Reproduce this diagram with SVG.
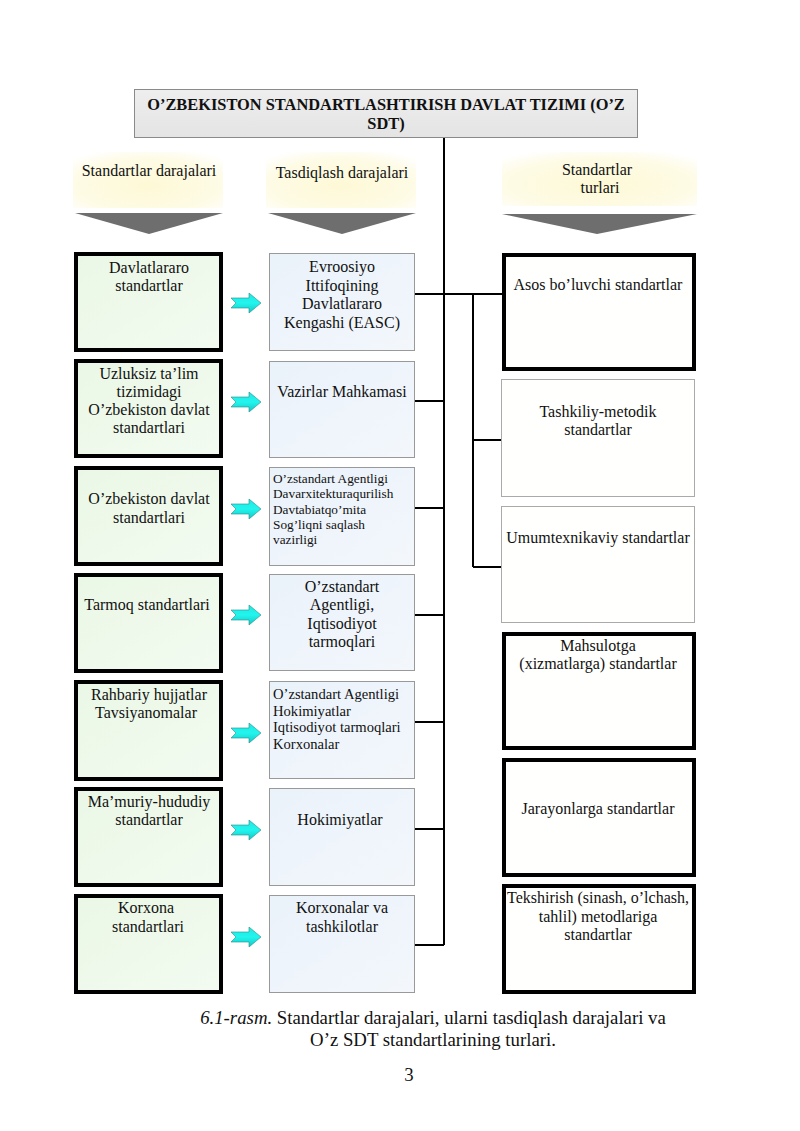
<svg xmlns="http://www.w3.org/2000/svg" width="800" height="1131" viewBox="0 0 800 1131">
<defs>
<linearGradient id="gHead" x1="0" y1="0" x2="0" y2="1"><stop offset="0" stop-color="#eeeeee"/><stop offset="1" stop-color="#e4e4e4"/></linearGradient>
<radialGradient id="gYel" cx="0.5" cy="0.6" r="0.7"><stop offset="0" stop-color="#fdf9d6"/><stop offset="0.7" stop-color="#fefbe6"/><stop offset="1" stop-color="#ffffff"/></radialGradient>
<linearGradient id="gGreen" x1="0" y1="0" x2="1" y2="1"><stop offset="0" stop-color="#eaf7e6"/><stop offset="1" stop-color="#f3fbf0"/></linearGradient>
<linearGradient id="gBlue" x1="0" y1="0" x2="1" y2="1"><stop offset="0" stop-color="#eaf2fa"/><stop offset="1" stop-color="#f3f7fc"/></linearGradient>
<linearGradient id="gArrow" x1="0" y1="0" x2="0" y2="1"><stop offset="0" stop-color="#1ee8e0"/><stop offset="0.5" stop-color="#22f5ee"/><stop offset="1" stop-color="#12c8c4"/></linearGradient>
<path id="arr" d="M0,-5 L18,-5 L18,-10 L30,0 L18,10 L18,5 L0,5 L5,0 Z"/>
</defs>
<style>
text{font-family:"Liberation Serif","Times New Roman",serif;font-size:16px;fill:#111;}
.c{text-anchor:middle;}
.sm{font-size:13.3px;}
.md{font-size:14.6px;}
.title{font-weight:bold;font-size:16.4px;}
.cap{font-size:18.8px;}
.lbox{fill:url(#gGreen);stroke:#000;stroke-width:4;}
.mbox{fill:url(#gBlue);stroke:#999;stroke-width:1;}
.rthick{fill:#fffffd;stroke:#000;stroke-width:4;}
.rthin{fill:#fffffd;stroke:#aaa;stroke-width:1;}
.yel{fill:url(#gYel);}
.tri{fill:#6e6e6e;}
.arrow{fill:url(#gArrow);stroke:#2a8c8a;stroke-width:0.6;}
.conn{stroke:#000;stroke-width:2;fill:none;}
</style>
<rect width="800" height="1131" fill="#ffffff"/>

<g id="header">
<rect x="134.5" y="89.5" width="503" height="48" fill="url(#gHead)" stroke="#8a8a8a" stroke-width="1"/>
<text class="title c" x="386" y="110">O’ZBEKISTON STANDARTLASHTIRISH DAVLAT TIZIMI (O’Z</text>
<text class="title c" x="386" y="129">SDT)</text>
</g>

<g id="connectors">
<path class="conn" d="M444,138 V945"/>
<path class="conn" d="M414,294 H502"/>
<path class="conn" d="M414,401 H444 M414,508 H444 M414,615 H444 M414,722 H444 M414,829 H444 M414,945 H444"/>
<path class="conn" d="M473,294 V567 M473,440 H502 M473,567 H502"/>
</g>

<g id="col-head-left">
<rect class="yel" x="73" y="152" width="150" height="56"/>
<text class="c" x="149" y="176">Standartlar darajalari</text>
<path class="tri" d="M75,213 L223,213 L149,234 Z"/>
</g>
<g id="col-head-mid">
<rect class="yel" x="266" y="152" width="150" height="56"/>
<text class="c" x="342" y="178">Tasdiqlash darajalari</text>
<path class="tri" d="M268,213 L416,213 L342,234 Z"/>
</g>
<g id="col-head-right">
<rect class="yel" x="502" y="152" width="195" height="54"/>
<text class="c" x="597" y="175">Standartlar</text>
<text class="c" x="600" y="193">turlari</text>
<path class="tri" d="M502,214 L697,214 L597,234 Z"/>
</g>

<g id="l1"><rect class="lbox" x="76" y="254" width="145" height="96"/>
<text class="c" x="149" y="273">Davlatlararo</text><text class="c" x="149" y="291">standartlar</text></g>
<g id="l2"><rect class="lbox" x="76" y="361" width="145" height="95"/>
<text class="c" x="149" y="379">Uzluksiz ta’lim</text><text class="c" x="149" y="397">tizimidagi</text><text class="c" x="149" y="415">O’zbekiston davlat</text><text class="c" x="149" y="433">standartlari</text></g>
<g id="l3"><rect class="lbox" x="76" y="468" width="145" height="96"/>
<text class="c" x="149" y="504">O’zbekiston davlat</text><text class="c" x="149" y="523">standartlari</text></g>
<g id="l4"><rect class="lbox" x="76" y="575" width="145" height="96"/>
<text class="c" x="147" y="610">Tarmoq standartlari</text></g>
<g id="l5"><rect class="lbox" x="76" y="682" width="145" height="97"/>
<text class="c" x="149" y="700">Rahbariy hujjatlar</text><text class="c" x="146" y="718">Tavsiyanomalar</text></g>
<g id="l6"><rect class="lbox" x="76" y="789" width="145" height="96"/>
<text class="c" x="149" y="807">Ma’muriy-hududiy</text><text class="c" x="149" y="825">standartlar</text></g>
<g id="l7"><rect class="lbox" x="76" y="896" width="145" height="96"/>
<text class="c" x="146" y="913">Korxona</text><text class="c" x="148" y="932">standartlari</text></g>

<g id="arrows">
<use href="#arr" class="arrow" x="231" y="303"/>
<use href="#arr" class="arrow" x="231" y="402"/>
<use href="#arr" class="arrow" x="231" y="509"/>
<use href="#arr" class="arrow" x="231" y="615"/>
<use href="#arr" class="arrow" x="231" y="733"/>
<use href="#arr" class="arrow" x="231" y="830"/>
<use href="#arr" class="arrow" x="231" y="937"/>
</g>

<g id="m1"><rect class="mbox" x="269.5" y="253.5" width="145" height="97"/>
<text class="c" x="342" y="272">Evroosiyo</text><text class="c" x="342" y="291">Ittifoqining</text><text class="c" x="342" y="309">Davlatlararo</text><text class="c" x="342" y="328">Kengashi (EASC)</text></g>
<g id="m2"><rect class="mbox" x="269.5" y="361.5" width="145" height="96"/>
<text class="c" x="342" y="397">Vazirlar Mahkamasi</text></g>
<g id="m3"><rect class="mbox" x="269.5" y="467.5" width="145" height="98"/>
<text class="sm" x="273" y="483">O’zstandart Agentligi</text><text class="sm" x="273" y="498">Davarxitekturaqurilish</text><text class="sm" x="273" y="514">Davtabiatqo’mita</text><text class="sm" x="273" y="529">Sog’liqni saqlash</text><text class="sm" x="273" y="544">vazirligi</text></g>
<g id="m4"><rect class="mbox" x="269.5" y="574.5" width="145" height="96"/>
<text class="c" x="342" y="592">O’zstandart</text><text class="c" x="342" y="610">Agentligi,</text><text class="c" x="342" y="629">Iqtisodiyot</text><text class="c" x="342" y="647">tarmoqlari</text></g>
<g id="m5"><rect class="mbox" x="269.5" y="681.5" width="145" height="97"/>
<text class="md" x="273" y="699">O’zstandart Agentligi</text><text class="md" x="273" y="716">Hokimiyatlar</text><text class="md" x="273" y="732">Iqtisodiyot tarmoqlari</text><text class="md" x="273" y="749">Korxonalar</text></g>
<g id="m6"><rect class="mbox" x="269.5" y="788.5" width="145" height="97"/>
<text class="c" x="340" y="825">Hokimiyatlar</text></g>
<g id="m7"><rect class="mbox" x="269.5" y="895.5" width="145" height="97"/>
<text class="c" x="342" y="913">Korxonalar va</text><text class="c" x="342" y="932">tashkilotlar</text></g>

<g id="r1"><rect class="rthick" x="504" y="255" width="190" height="114"/>
<text class="c" x="598" y="290">Asos bo’luvchi standartlar</text></g>
<g id="r2"><rect class="rthin" x="501.5" y="379.5" width="193" height="117"/>
<text class="c" x="598" y="417">Tashkiliy-metodik</text><text class="c" x="598" y="435">standartlar</text></g>
<g id="r3"><rect class="rthin" x="501.5" y="506.5" width="193" height="116"/>
<text class="c" x="598" y="543">Umumtexnikaviy standartlar</text></g>
<g id="r4"><rect class="rthick" x="504" y="634" width="190" height="114"/>
<text class="c" x="598" y="651">Mahsulotga</text><text class="c" x="598" y="669">(xizmatlarga) standartlar</text></g>
<g id="r5"><rect class="rthick" x="504" y="760" width="190" height="115"/>
<text class="c" x="598" y="814">Jarayonlarga standartlar</text></g>
<g id="r6"><rect class="rthick" x="504" y="886" width="190" height="106"/>
<text class="c" x="598" y="903">Tekshirish (sinash, o’lchash,</text><text class="c" x="598" y="922">tahlil) metodlariga</text><text class="c" x="598" y="940">standartlar</text></g>

<g id="caption">
<text class="cap c" x="433" y="1024"><tspan font-style="italic">6.1-rasm.</tspan> Standartlar darajalari, ularni tasdiqlash darajalari va</text>
<text class="cap c" x="433" y="1046">O’z SDT standartlarining turlari.</text>
<text class="cap c" x="409" y="1081">3</text>
</g>
</svg>
